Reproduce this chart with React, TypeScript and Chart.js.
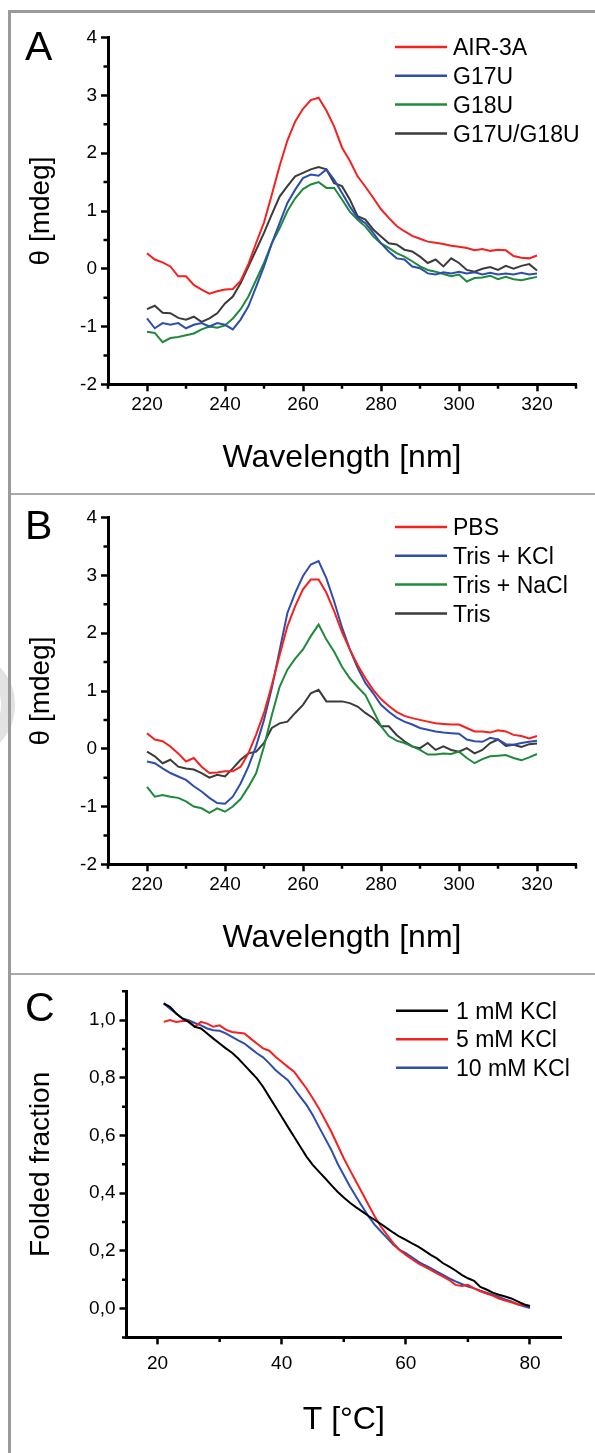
import React, { useEffect, useRef } from 'react';
import { Chart, registerables } from 'chart.js';

Chart.register(...registerables);

const FONT = "'Liberation Sans', Arial, Helvetica, sans-serif";

// ---------- Panels A & B: CD spectra ----------
const WAVELENGTH = [220, 222, 224, 226, 228, 230, 232, 234, 236, 238, 240, 242, 244, 246, 248, 250, 252, 254, 256, 258, 260, 262, 264, 266, 268, 270, 272, 274, 276, 278, 280, 282, 284, 286, 288, 290, 292, 294, 296, 298, 300, 302, 304, 306, 308, 310, 312, 314, 316, 318, 320];

const A_AIR3A = [0.27, 0.16, 0.11, 0.04, -0.13, -0.13, -0.28, -0.36, -0.43, -0.39, -0.36, -0.35, -0.21, 0.08, 0.45, 0.80, 1.28, 1.78, 2.22, 2.55, 2.77, 2.92, 2.96, 2.74, 2.46, 2.10, 1.87, 1.60, 1.42, 1.23, 1.03, 0.88, 0.74, 0.65, 0.57, 0.52, 0.47, 0.45, 0.43, 0.40, 0.38, 0.36, 0.32, 0.34, 0.31, 0.33, 0.32, 0.22, 0.19, 0.18, 0.23];
const A_G17U = [-0.86, -1.03, -0.94, -0.97, -0.94, -1.03, -0.97, -0.94, -1.00, -0.94, -0.97, -1.05, -0.88, -0.65, -0.31, 0.04, 0.44, 0.79, 1.14, 1.37, 1.57, 1.63, 1.61, 1.72, 1.54, 1.31, 1.08, 0.88, 0.79, 0.62, 0.44, 0.30, 0.18, 0.16, 0.04, 0.01, -0.08, -0.10, -0.06, -0.08, -0.05, -0.08, -0.06, -0.10, -0.07, -0.10, -0.08, -0.10, -0.07, -0.10, -0.08];
const A_G18U = [-1.09, -1.11, -1.27, -1.20, -1.18, -1.15, -1.12, -1.05, -1.00, -1.02, -0.98, -0.86, -0.70, -0.48, -0.19, 0.10, 0.44, 0.70, 1.00, 1.22, 1.38, 1.46, 1.50, 1.40, 1.40, 1.20, 0.99, 0.85, 0.73, 0.56, 0.44, 0.36, 0.27, 0.21, 0.13, 0.04, -0.02, -0.05, -0.09, -0.13, -0.10, -0.22, -0.16, -0.15, -0.12, -0.18, -0.14, -0.18, -0.20, -0.17, -0.14];
const A_G17U_G18U = [-0.70, -0.64, -0.76, -0.77, -0.85, -0.88, -0.83, -0.92, -0.86, -0.77, -0.60, -0.48, -0.25, 0.04, 0.33, 0.62, 0.94, 1.25, 1.43, 1.60, 1.66, 1.72, 1.76, 1.72, 1.48, 1.43, 1.20, 0.91, 0.85, 0.68, 0.56, 0.44, 0.42, 0.33, 0.30, 0.21, 0.10, 0.16, 0.04, 0.18, 0.10, -0.02, -0.05, 0.00, 0.03, -0.02, 0.05, 0.00, 0.05, 0.08, -0.03];

const B_PBS = [0.27, 0.16, 0.13, 0.04, -0.08, -0.22, -0.16, -0.31, -0.42, -0.41, -0.39, -0.39, -0.31, -0.08, 0.25, 0.62, 1.10, 1.62, 2.12, 2.47, 2.76, 2.93, 2.93, 2.70, 2.38, 2.02, 1.72, 1.45, 1.22, 1.02, 0.86, 0.74, 0.64, 0.57, 0.53, 0.50, 0.47, 0.44, 0.43, 0.42, 0.42, 0.36, 0.30, 0.30, 0.28, 0.32, 0.30, 0.24, 0.22, 0.18, 0.22];
const B_TRIS_KCL = [-0.22, -0.25, -0.34, -0.42, -0.48, -0.54, -0.65, -0.74, -0.85, -0.94, -0.95, -0.83, -0.60, -0.31, 0.05, 0.50, 1.05, 1.70, 2.35, 2.70, 2.99, 3.19, 3.25, 2.95, 2.55, 2.10, 1.72, 1.40, 1.14, 0.96, 0.76, 0.64, 0.54, 0.47, 0.42, 0.36, 0.33, 0.30, 0.28, 0.27, 0.26, 0.16, 0.13, 0.12, 0.19, 0.16, 0.08, 0.07, 0.10, 0.12, 0.14];
const B_TRIS_NACL = [-0.66, -0.83, -0.80, -0.83, -0.85, -0.91, -1.00, -1.03, -1.11, -1.03, -1.09, -1.00, -0.87, -0.66, -0.42, 0.04, 0.58, 1.07, 1.37, 1.56, 1.72, 1.95, 2.15, 1.89, 1.68, 1.42, 1.22, 1.07, 0.93, 0.66, 0.39, 0.22, 0.14, 0.10, 0.04, -0.02, -0.10, -0.10, -0.08, -0.09, -0.05, -0.16, -0.25, -0.18, -0.13, -0.12, -0.11, -0.16, -0.20, -0.15, -0.09];
const B_TRIS = [-0.05, -0.13, -0.25, -0.19, -0.31, -0.34, -0.36, -0.42, -0.50, -0.45, -0.48, -0.34, -0.19, -0.08, -0.05, 0.10, 0.36, 0.44, 0.47, 0.62, 0.76, 0.96, 1.02, 0.82, 0.82, 0.82, 0.79, 0.73, 0.62, 0.53, 0.39, 0.39, 0.24, 0.13, 0.04, 0.01, 0.10, -0.02, 0.04, -0.02, -0.05, 0.01, -0.08, -0.02, 0.10, 0.16, 0.05, 0.07, 0.03, 0.08, 0.09];

const A_LABELS = ['AIR-3A', 'G17U', 'G18U', 'G17U/G18U'];
const B_LABELS = ['PBS', 'Tris + KCl', 'Tris + NaCl', 'Tris'];
const WL_TICKS = [220, 240, 260, 280, 300, 320];
const WL_MINOR = [210, 230, 250, 270, 290, 310, 330];
const THETA_TICKS = [-2, -1, 0, 1, 2, 3, 4];
const THETA_MINOR = [-1.5, -0.5, 0.5, 1.5, 2.5, 3.5];

// ---------- Panel C: melting curves ----------
const TEMPERATURE = [21, 22, 23, 24, 25, 26, 27, 28, 29, 30, 31, 32, 33, 34, 35, 36, 37, 38, 39, 40, 41, 42, 43, 44, 45, 46, 47, 48, 49, 50, 51, 52, 53, 54, 55, 56, 57, 58, 59, 60, 61, 62, 63, 64, 65, 66, 67, 68, 69, 70, 71, 72, 73, 74, 75, 76, 77, 78, 79, 80];
const C_1MM = [1.058, 1.046, 1.023, 1.006, 0.994, 0.977, 0.971, 0.954, 0.936, 0.919, 0.902, 0.887, 0.867, 0.844, 0.821, 0.798, 0.769, 0.734, 0.700, 0.665, 0.630, 0.596, 0.561, 0.527, 0.498, 0.475, 0.452, 0.428, 0.405, 0.385, 0.367, 0.351, 0.336, 0.321, 0.307, 0.293, 0.278, 0.263, 0.249, 0.238, 0.226, 0.215, 0.201, 0.186, 0.174, 0.157, 0.145, 0.132, 0.117, 0.105, 0.096, 0.075, 0.066, 0.055, 0.048, 0.042, 0.035, 0.025, 0.015, 0.008];
const C_5MM = [0.994, 1.000, 0.994, 0.997, 0.997, 0.977, 0.994, 0.988, 0.977, 0.982, 0.967, 0.959, 0.956, 0.954, 0.936, 0.919, 0.902, 0.894, 0.873, 0.856, 0.838, 0.821, 0.792, 0.763, 0.729, 0.694, 0.654, 0.613, 0.567, 0.521, 0.480, 0.440, 0.400, 0.359, 0.319, 0.284, 0.255, 0.226, 0.203, 0.186, 0.171, 0.157, 0.145, 0.134, 0.122, 0.111, 0.099, 0.082, 0.078, 0.082, 0.070, 0.060, 0.052, 0.045, 0.035, 0.028, 0.022, 0.015, 0.012, 0.010];
const C_10MM = [1.058, 1.040, 1.023, 1.006, 1.000, 0.990, 0.982, 0.971, 0.965, 0.963, 0.954, 0.942, 0.930, 0.919, 0.902, 0.885, 0.871, 0.850, 0.827, 0.809, 0.792, 0.763, 0.734, 0.706, 0.671, 0.630, 0.590, 0.550, 0.503, 0.463, 0.423, 0.388, 0.353, 0.319, 0.290, 0.267, 0.244, 0.221, 0.203, 0.192, 0.178, 0.163, 0.151, 0.140, 0.128, 0.117, 0.105, 0.094, 0.085, 0.076, 0.070, 0.062, 0.055, 0.048, 0.040, 0.032, 0.025, 0.015, 0.008, 0.002];
const C_LABELS = ['1 mM KCl', '5 mM KCl', '10 mM KCl'];
const T_TICKS = [20, 40, 60, 80];
const T_MINOR = [30, 50, 70];
const FF_TICKS = [0, 0.2, 0.4, 0.6, 0.8, 1.0];
const FF_MINOR = [-0.1, 0.1, 0.3, 0.5, 0.7, 0.9, 1.1];

const RED = '#f5211f';
const BLUE = '#2d4daf';
const GREEN = '#1f8a3b';
const GRAY = '#3b3b3b';
const BLACK = '#000000';

const decorPlugin = {
  id: 'panelDecor',
  afterDraw(chart: any, _args: any, opts: any) {
    const ctx = chart.ctx as CanvasRenderingContext2D;
    const ca = chart.chartArea;
    const xs = chart.scales.x;
    const ys = chart.scales.y;
    ctx.save();
    // minor ticks
    ctx.strokeStyle = '#000';
    ctx.lineWidth = 2.5;
    ctx.beginPath();
    for (const v of opts.xMinor) {
      const px = xs.getPixelForValue(v);
      ctx.moveTo(px, ca.bottom);
      ctx.lineTo(px, ca.bottom + 4.5);
    }
    for (const v of opts.yMinor) {
      const py = ys.getPixelForValue(v);
      ctx.moveTo(ca.left - 4.5, py);
      ctx.lineTo(ca.left, py);
    }
    ctx.stroke();
    // legend
    ctx.font = `23px ${FONT}`;
    ctx.textBaseline = 'alphabetic';
    ctx.textAlign = 'left';
    chart.data.datasets.forEach((ds: any, i: number) => {
      const y = opts.legend.y0 + i * opts.legend.step;
      ctx.strokeStyle = ds.borderColor;
      ctx.lineWidth = 2.5;
      ctx.beginPath();
      ctx.moveTo(opts.legend.x0, y);
      ctx.lineTo(opts.legend.x1, y);
      ctx.stroke();
      ctx.fillStyle = '#000';
      ctx.fillText(ds.label, opts.legend.tx, y + 8.2);
    });
    // panel letter
    ctx.font = `41px ${FONT}`;
    ctx.fillStyle = '#000';
    ctx.fillText(opts.letter.text, opts.letter.x, opts.letter.y);
    ctx.restore();
  },
};

type Series = { label: string; color: string; data: number[] };

type PanelSpec = {
  height: number;
  xs: number[];
  series: Series[];
  xMin: number; xMax: number; yMin: number; yMax: number;
  xTicks: number[]; yTicks: number[]; xMinor: number[]; yMinor: number[];
  xTitle: string; yTitle: string;
  yFmt: (v: number) => string;
  padTop: number; padRight: number; yWidth: number; xHeight: number;
  xTitlePad: number; yTitlePad: number; xTickPad: number;
  legend: { x0: number; x1: number; tx: number; y0: number; step: number };
  letter: { text: string; x: number; y: number };
};

function makeConfig(p: PanelSpec): any {
  return {
    type: 'line',
    data: {
      datasets: p.series.map((s) => ({
        label: s.label,
        data: p.xs.map((x, i) => ({ x, y: s.data[i] })),
        borderColor: s.color,
        backgroundColor: s.color,
        borderWidth: 2,
        pointRadius: 0,
        tension: 0,
        fill: false,
      })),
    },
    options: {
      animation: false,
      responsive: false,
      devicePixelRatio: 1,
      layout: { padding: { left: 0, top: p.padTop, right: p.padRight, bottom: 0 } },
      plugins: {
        legend: { display: false },
        tooltip: { enabled: false },
        panelDecor: { xMinor: p.xMinor, yMinor: p.yMinor, legend: p.legend, letter: p.letter },
      },
      scales: {
        x: {
          type: 'linear',
          min: p.xMin,
          max: p.xMax,
          afterBuildTicks: (s: any) => { s.ticks = p.xTicks.map((v) => ({ value: v })); },
          afterFit: (s: any) => { s.height = p.xHeight; },
          ticks: {
            color: '#000',
            font: { family: FONT, size: 19 },
            padding: p.xTickPad,
            maxRotation: 0,
            autoSkip: false,
            callback: (v: number) => String(v),
          },
          grid: { display: true, drawOnChartArea: false, drawTicks: true, tickLength: 7, tickWidth: 2.5, tickColor: '#000', color: '#000' },
          border: { display: true, color: '#000', width: 3 },
          title: {
            display: true,
            text: p.xTitle,
            color: '#000',
            font: { family: FONT, size: 32, lineHeight: 1 },
            padding: { top: 0, bottom: p.xTitlePad },
          },
        },
        y: {
          type: 'linear',
          min: p.yMin,
          max: p.yMax,
          afterBuildTicks: (s: any) => { s.ticks = p.yTicks.map((v) => ({ value: v })); },
          afterFit: (s: any) => { s.width = p.yWidth; },
          ticks: {
            color: '#000',
            font: { family: FONT, size: 19 },
            padding: 4,
            autoSkip: false,
            callback: (v: number) => p.yFmt(v),
          },
          grid: { display: true, drawOnChartArea: false, drawTicks: true, tickLength: 7, tickWidth: 2.5, tickColor: '#000', color: '#000' },
          border: { display: true, color: '#000', width: 3 },
          title: {
            display: true,
            text: p.yTitle,
            color: '#000',
            font: { family: FONT, size: 28, lineHeight: 1 },
            padding: { top: p.yTitlePad, bottom: 0 },
          },
        },
      },
    },
    plugins: [decorPlugin],
  };
}

const PANEL_A: PanelSpec = {
  height: 480,
  xs: WAVELENGTH,
  series: [
    { label: A_LABELS[0], color: RED, data: A_AIR3A },
    { label: A_LABELS[1], color: BLUE, data: A_G17U },
    { label: A_LABELS[2], color: GREEN, data: A_G18U },
    { label: A_LABELS[3], color: GRAY, data: A_G17U_G18U },
  ],
  xMin: 210, xMax: 330, yMin: -2, yMax: 4,
  xTicks: WL_TICKS, yTicks: THETA_TICKS, xMinor: WL_MINOR, yMinor: THETA_MINOR,
  xTitle: 'Wavelength [nm]', yTitle: 'θ [mdeg]',
  yFmt: (v) => String(v),
  padTop: 24.7, padRight: 19, yWidth: 97, xHeight: 108.7,
  xTitlePad: 18.6, yTitlePad: 16.3, xTickPad: 2,
  legend: { x0: 384, x1: 436, tx: 442, y0: 34, step: 28.8 },
  letter: { text: 'A', x: 14, y: 46.5 },
};

const PANEL_B: PanelSpec = {
  ...PANEL_A,
  height: 478,
  series: [
    { label: B_LABELS[0], color: RED, data: B_PBS },
    { label: B_LABELS[1], color: BLUE, data: B_TRIS_KCL },
    { label: B_LABELS[2], color: GREEN, data: B_TRIS_NACL },
    { label: B_LABELS[3], color: GRAY, data: B_TRIS },
  ],
  padTop: 22.7,
  legend: { x0: 384, x1: 436, tx: 442, y0: 32, step: 28.8 },
  letter: { text: 'B', x: 14, y: 44 },
};

const PANEL_C: PanelSpec = {
  height: 478,
  xs: TEMPERATURE,
  series: [
    { label: C_LABELS[0], color: BLACK, data: C_1MM },
    { label: C_LABELS[1], color: RED, data: C_5MM },
    { label: C_LABELS[2], color: BLUE, data: C_10MM },
  ],
  xMin: 15, xMax: 85, yMin: -0.1, yMax: 1.1,
  xTicks: T_TICKS, yTicks: FF_TICKS, xMinor: T_MINOR, yMinor: FF_MINOR,
  xTitle: 'T [°C]', yTitle: 'Folded fraction',
  yFmt: (v) => v.toFixed(1).replace('.', ','),
  padTop: 16.3, padRight: 34, yWidth: 115.5, xHeight: 115.6,
  xTitlePad: 16.9, yTitlePad: 16.3, xTickPad: 8,
  legend: { x0: 385, x1: 437, tx: 445, y0: 35.7, step: 28.5 },
  letter: { text: 'C', x: 14, y: 45.7 },
};

function Panel({ spec, top }: { spec: PanelSpec; top: number }) {
  const ref = useRef<HTMLCanvasElement>(null);
  useEffect(() => {
    const chart = new Chart(ref.current as HTMLCanvasElement, makeConfig(spec));
    return () => chart.destroy();
  }, [spec]);
  return (
    <canvas
      ref={ref}
      width={584}
      height={spec.height}
      style={{ position: 'absolute', left: 11, top, width: 584, height: spec.height }}
    />
  );
}

export default function App() {
  return (
    <div style={{ position: 'absolute', left: 0, top: 0, width: 595, height: 1453, overflow: 'hidden', background: '#fff' }}>
      <div style={{ position: 'absolute', left: -95, top: 650, width: 82, height: 82, borderRadius: '50%', border: '14px solid #e2e2e2' }} />
      <div style={{ position: 'absolute', left: 8, top: 10, width: 3, height: 1443, background: '#9a9a9a' }} />
      <div style={{ position: 'absolute', left: 8, top: 10, width: 587, height: 3, background: '#9a9a9a' }} />
      <Panel spec={PANEL_A} top={13} />
      <div style={{ position: 'absolute', left: 11, top: 493, width: 584, height: 2, background: '#a9a9a9' }} />
      <Panel spec={PANEL_B} top={495} />
      <div style={{ position: 'absolute', left: 11, top: 973, width: 584, height: 2, background: '#a9a9a9' }} />
      <Panel spec={PANEL_C} top={975} />
    </div>
  );
}
